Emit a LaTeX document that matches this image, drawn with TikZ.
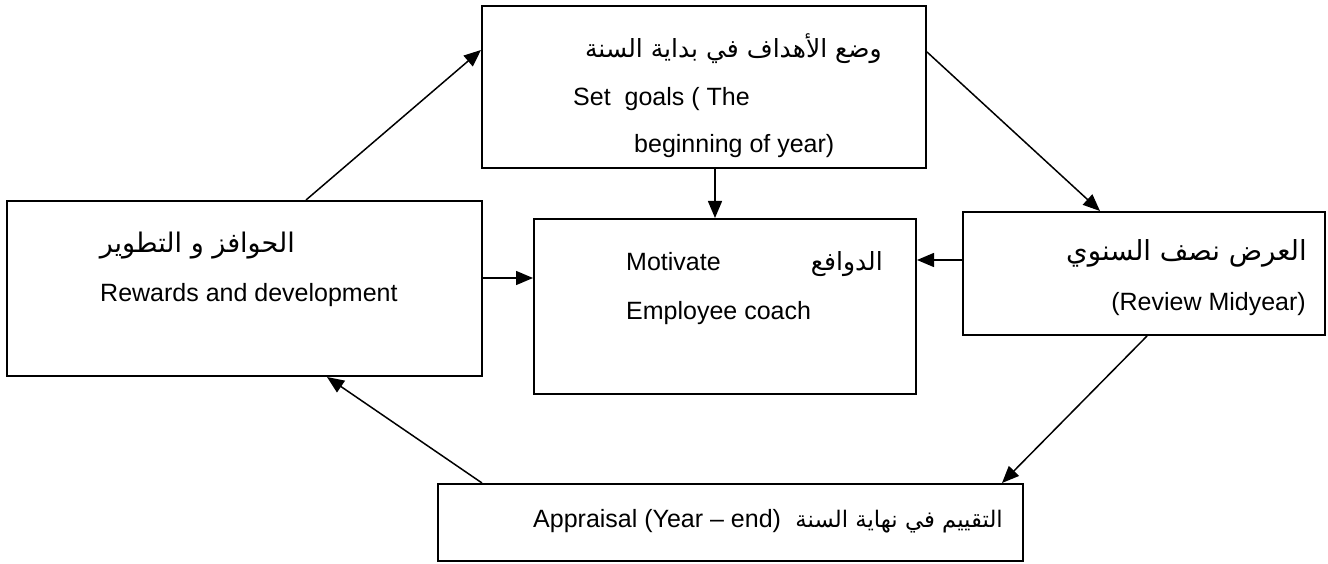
\documentclass[tikz,border=0pt]{standalone}
\usepackage{fontspec}
\setmainfont{Liberation Sans}
\newfontfamily\arabicfont[Script=Arabic]{DejaVu Sans}
\usetikzlibrary{arrows.meta}
\TeXXeTstate=1

\begin{document}
\begin{tikzpicture}[x=1pt, y=-1pt,
  every node/.style={font=\fontsize{25}{30}\selectfont, inner sep=0pt},
  box/.style={draw, line width=2pt, rectangle},
  arr/.style={line width=1.5pt, -{Triangle[length=17pt, width=14pt]}}]
  \useasboundingbox (0,0) rectangle (1328,564);

  % boxes
  \node[box, minimum width=444, minimum height=162] (goals) at (704,87) {};
  \node[box, minimum width=475, minimum height=175] (rewards) at (244.5,288.5) {};
  \node[box, minimum width=382, minimum height=175] (motiv) at (725,306.5) {};
  \node[box, minimum width=362, minimum height=123] (review) at (1144,273.5) {};
  \node[box, minimum width=585, minimum height=77] (apprais) at (730.5,522.5) {};

  % texts
  \node[anchor=base east] (goalsar) at (882,58) {\arabicfont\beginR وضع الأهداف في بداية السنة\endR};
  \node[anchor=base west] (goalsen) at (573,106) {Set\ \ goals ( The};
  \node[anchor=base west] (goalsen2) at (634,153) {beginning of year)};

  \node[anchor=base east] (rewardsar) at (295,252) {\fontsize{27}{30}\arabicfont\beginR الحوافز و التطوير\endR};
  \node[anchor=base west] (rewardsen) at (100,301) {Rewards and development};

  \node[anchor=base west] (motiven) at (626,270) {Motivate};
  \node[anchor=base east] (motivar) at (883,270) {\arabicfont\beginR الدوافع\endR};
  \node[anchor=base west] (motiven2) at (626,319) {Employee coach};

  \node[anchor=base east] (reviewar) at (1307,260) {\fontsize{27.6}{30}\arabicfont\beginR العرض نصف السنوي\endR};
  \node[anchor=base east] (reviewen) at (1306,310) {(Review Midyear)};

  \node[anchor=base west] (appraisen) at (533,527) {Appraisal (Year -- end)};
  \node[anchor=base east] (appraisar) at (1003,527) {\fontsize{22.8}{30}\arabicfont\beginR التقييم في نهاية السنة\endR};

  % cycle arrows
  \draw[arr] ([xshift=61.5]rewards.north) -- ([yshift=37]goals.west);
  \draw[arr] ([yshift=35]goals.east) -- ([xshift=-44]review.north);
  \draw[arr] ([xshift=3]review.south) -- ([xshift=271.5]apprais.north);
  \draw[arr] ([xshift=-248.5]apprais.north) -- ([xshift=82.5]rewards.south);

  % arrows into the centre
  \draw[arr] ([xshift=11]goals.south) -- ([xshift=11]goals.south |- motiv.north);
  \draw[arr] ([yshift=13.5]review.west) -- ([yshift=13.5]review.west -| motiv.east);
  \draw[arr] ([yshift=10.5]rewards.east) -- ([yshift=10.5]rewards.east -| motiv.west);
\end{tikzpicture}
\end{document}
